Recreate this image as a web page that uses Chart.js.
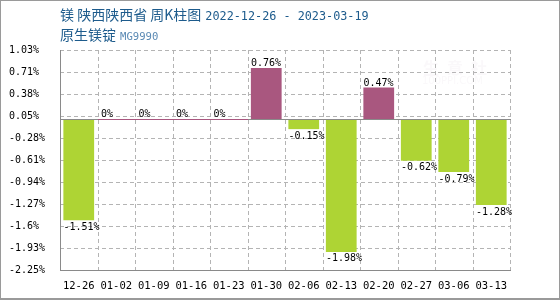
<!DOCTYPE html>
<html>
<head>
<meta charset="utf-8">
<script src="https://cdn.jsdelivr.net/npm/chart.js@4"></script>
<style>
  html, body { margin: 0; padding: 0; background: #fff; }
  #wrap { position: relative; width: 560px; height: 300px; overflow: hidden; }
  #c { position: absolute; left: 0; top: 0; }
  #frame { position: absolute; left: 0; top: 0; width: 558px; height: 297px; border: 1px solid #9a9a9a; border-bottom-width: 2px; pointer-events: none; }
  .t { position: absolute; white-space: nowrap; color: #1d5b8c; }
  .cjk { font-family: "Noto Sans CJK SC", sans-serif; font-size: 14px; }
  .mono { font-family: "DejaVu Sans Mono", monospace; }
  .wm { position: absolute; color: rgba(215, 200, 210, 0.12); white-space: nowrap; pointer-events: none; }
</style>
</head>
<body>
<div id="wrap">
  <canvas id="c" width="560" height="300"></canvas>
  <div class="wm" style="left:423px; top:55px; font-family:'Noto Sans CJK SC'; font-size:16px; letter-spacing:8px; font-weight:bold;">生意社</div>
  <div class="wm" style="left:422px; top:75px; font-family:'DejaVu Sans'; font-size:10px;">100PPI.COM</div>
  <div class="t" style="left:60px; top:4px;"><span class="cjk">镁 陕西陕西省 周K柱图</span> <span class="mono" style="font-size:11.8px;">2022-12-26 - 2023-03-19</span></div>
  <div class="t" style="left:60px; top:24px;"><span class="cjk">原生镁锭</span> <span class="mono" style="font-size:10.6px; color:#5b8ab4;">MG9990</span></div>
  <div id="frame"></div>
</div>
<script>
const categories = ['12-26','01-02','01-09','01-16','01-23','01-30','02-06','02-13','02-20','02-27','03-06','03-13'];
const values = [-1.51, 0, 0, 0, 0, 0.76, -0.15, -1.98, 0.47, -0.62, -0.79, -1.28];
const yTickValues = [1.03, 0.702, 0.374, 0.046, -0.282, -0.61, -0.938, -1.266, -1.594, -1.922, -2.25];
const yTickLabels = ['1.03%','0.71%','0.38%','0.05%','-0.28%','-0.61%','-0.94%','-1.27%','-1.6%','-1.93%','-2.25%'];

const UP = '#a9577f';
const DOWN = '#aed434';
const MONO = "'DejaVu Sans Mono', monospace";
const GRID = '#b4b4b4';

const overlay = {
  id: 'overlay',
  beforeDatasetsDraw(chart) {
    const ctx = chart.ctx;
    const xs = chart.scales.x, ys = chart.scales.y;
    const a = chart.chartArea;
    const half = (xs.getPixelForValue(1) - xs.getPixelForValue(0)) / 2;
    ctx.save();
    ctx.strokeStyle = GRID;
    ctx.lineWidth = 1;
    ctx.setLineDash([4, 3]);
    ctx.beginPath();
    yTickValues.forEach(v => {
      const y = Math.round(ys.getPixelForValue(v)) + 0.5;
      ctx.moveTo(a.left, y);
      ctx.lineTo(a.right, y);
    });
    for (let i = 0; i <= categories.length; i++) {
      const x = Math.round(xs.getPixelForValue(i) - half) + 0.5;
      ctx.moveTo(x, a.top);
      ctx.lineTo(x, a.bottom);
    }
    ctx.stroke();
    ctx.restore();
  },
  afterDatasetsDraw(chart) {
    const ctx = chart.ctx;
    const xs = chart.scales.x, ys = chart.scales.y;
    const a = chart.chartArea;
    const L = Math.round(a.left), R = Math.round(a.right), T = Math.round(a.top), B = Math.round(a.bottom);
    const y0 = Math.round(ys.getPixelForValue(0));
    const half = (xs.getPixelForValue(1) - xs.getPixelForValue(0)) / 2;
    const meta = chart.getDatasetMeta(0);
    ctx.save();
    ctx.fillStyle = '#8a8a8a';
    ctx.fillRect(L, T, 1, B - T + 1);
    ctx.fillRect(L, B, R - L + 1, 1);
    ctx.fillRect(L, y0, R - L + 1, 1);
    ctx.fillStyle = UP;
    values.forEach((v, i) => {
      if (v === 0) {
        const cx = xs.getPixelForValue(i);
        ctx.fillRect(Math.round(cx - half), y0, Math.round(2 * half), 1);
      }
    });
    ctx.fillStyle = '#000';
    ctx.font = '10px ' + MONO;
    ctx.textAlign = 'left';
    values.forEach((v, i) => {
      const bar = meta.data[i];
      const left = bar.x - bar.width / 2;
      const txt = (v === 0 ? '0' : v.toFixed(2)) + '%';
      if (v >= 0) {
        ctx.textBaseline = 'alphabetic';
        ctx.fillText(txt, left, ys.getPixelForValue(v) - 2);
      } else {
        ctx.textBaseline = 'top';
        ctx.fillText(txt, left, ys.getPixelForValue(v) + 2);
      }
    });
    ctx.restore();
  }
};

new Chart(document.getElementById('c'), {
  type: 'bar',
  data: {
    labels: categories,
    datasets: [{
      data: values,
      backgroundColor: values.map(v => v >= 0 ? UP : DOWN),
      borderWidth: 0,
      barPercentage: 0.82,
      categoryPercentage: 1.0
    }]
  },
  options: {
    responsive: false,
    animation: false,
    devicePixelRatio: 1,
    layout: { padding: { top: 50, right: 50, bottom: 0, left: 9 } },
    plugins: { legend: { display: false }, tooltip: { enabled: false }, title: { display: false } },
    scales: {
      x: {
        offset: true,
        grid: { display: false, drawTicks: false },
        border: { display: false },
        ticks: { color: '#000', font: { family: MONO, size: 10.5 }, padding: 10, maxRotation: 0, autoSkip: false },
        afterFit(s) { s.height = 30; }
      },
      y: {
        min: -2.25,
        max: 1.03,
        afterBuildTicks(s) { s.ticks = yTickValues.map(v => ({ value: v })); },
        grid: { display: false, drawTicks: false },
        border: { display: false },
        ticks: {
          color: '#000',
          font: { family: MONO, size: 10 },
          padding: 0,
          crossAlign: 'far',
          callback: (v, i) => yTickLabels[i]
        },
        afterFit(s) { s.width = 51; }
      }
    }
  },
  plugins: [overlay]
});
</script>
</body>
</html>
